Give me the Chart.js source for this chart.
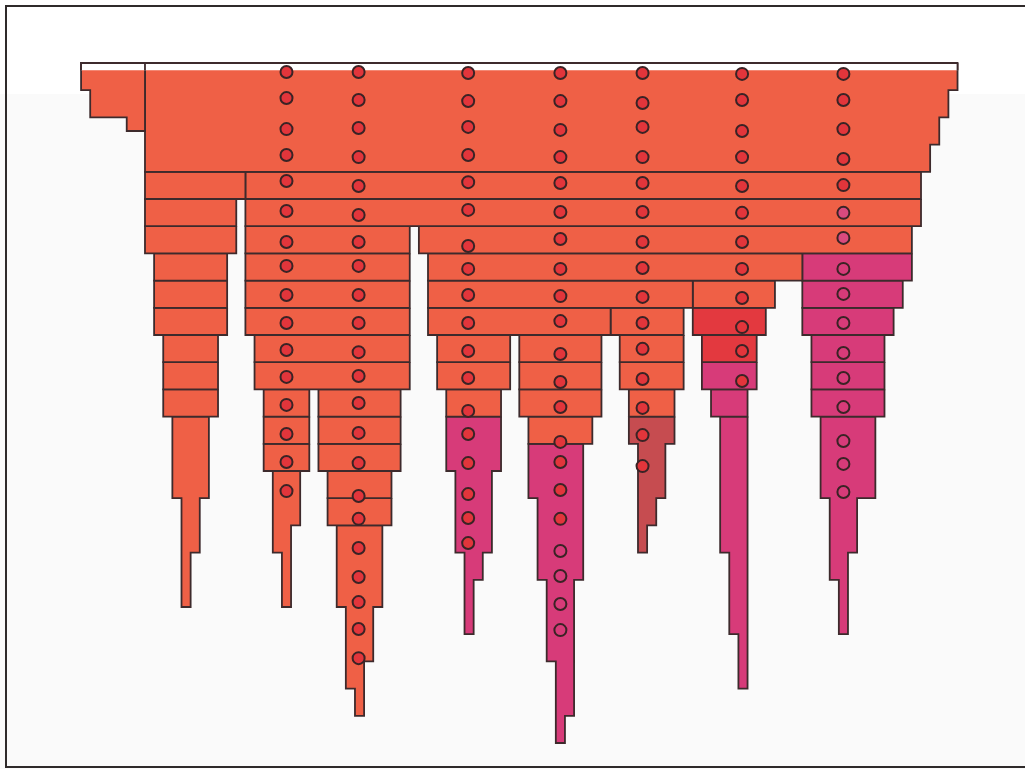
<!DOCTYPE html>
<html>
<head>
<meta charset="utf-8">
<script src="https://cdn.jsdelivr.net/npm/chart.js@4.4.1/dist/chart.umd.min.js"></script>
<style>
  html, body { margin: 0; padding: 0; }
  body {
    width: 1025px; height: 769px; overflow: hidden; position: relative;
    background: linear-gradient(#ffffff 0, #ffffff 94px, #fafafa 94px);
  }
  #frame {
    position: absolute; left: 5px; top: 5px; width: 1100px; height: 763px;
    box-sizing: border-box;
    border-top: 2px solid #2f2a2a; border-left: 2px solid #2f2a2a; border-bottom: 2px solid #2f2a2a;
  }
  #wrap { position: absolute; left: 0; top: 0; width: 1025px; height: 769px; }
</style>
</head>
<body>
<div id="frame"></div>
<div id="wrap"><canvas id="c" width="1025" height="769"></canvas></div>
<script>
// Horizontal unit: one grid step; vertical unit: one level (row).
// Strips are [levelFrom, levelTo, left, right].

// Crown and its left spur
const spurStrips  = [[0, 1, -7, 0], [1, 2, -6, 0], [2, 2.5, -2, 0]];
const crownStrips = [[0, 1, 0, 89], [1, 2, 0, 88], [2, 3, 0, 87], [3, 4, 0, 86]];
const capDepth = 0.27;

// Single-level boxes: [level, left, right]
const orangeBoxes = [
  [4, 0, 11], [4, 11, 85],
  [5, 0, 10], [5, 11, 85],
  [6, 0, 10], [6, 11, 29], [6, 30, 84],
  [7, 1, 9], [7, 11, 29], [7, 31, 72],
  [8, 1, 9], [8, 11, 29], [8, 31, 60], [8, 60, 69],
  [9, 1, 9], [9, 11, 29], [9, 31, 51], [9, 51, 59],
  [10, 2, 8], [10, 12, 29], [10, 32, 40], [10, 41, 50], [10, 52, 59],
  [11, 2, 8], [11, 12, 29], [11, 32, 40], [11, 41, 50], [11, 52, 59],
  [12, 2, 8], [12, 13, 18], [12, 19, 28], [12, 33, 39], [12, 41, 50], [12, 53, 58],
  [13, 13, 18], [13, 19, 28], [13, 42, 49],
  [14, 13, 18], [14, 19, 28],
  [15, 20, 27], [16, 20, 27]
];
const redBoxes = [[9, 60, 68], [10, 61, 67]];
const magentaBoxes = [
  [7, 72, 84], [8, 72, 83], [9, 72, 82],
  [10, 73, 81], [11, 73, 81], [12, 73, 81],
  [11, 61, 67], [12, 62, 66]
];

// Tapering shafts
const shaftA  = [[13, 16, 3, 7], [16, 18, 4, 6], [18, 20, 4, 5]];
const shaftB1 = [[15, 17, 14, 17], [17, 18, 14, 16], [18, 20, 15, 16]];
const shaftB2 = [[17, 20, 21, 26], [20, 22, 22, 25], [22, 23, 22, 24], [23, 24, 23, 24]];
const shaftC1 = [[13, 15, 33, 39], [15, 18, 34, 38], [18, 19, 35, 37], [19, 21, 35, 36]];
const shaftC2 = [[14, 16, 42, 48], [16, 19, 43, 48], [19, 22, 44, 47], [22, 24, 45, 47], [24, 25, 45, 46]];
const shaftC3 = [[13, 14, 53, 58], [14, 16, 54, 57], [16, 17, 54, 56], [17, 18, 54, 55]];
const shaftD  = [[13, 18, 63, 66], [18, 21, 64, 66], [21, 23, 65, 66]];
const shaftE  = [[13, 16, 74, 80], [16, 18, 75, 78], [18, 19, 75, 77], [19, 21, 76, 77]];

// Marker columns (horizontal position) and their depths
const markerX = [15.5, 23.4, 35.4, 45.5, 54.5, 65.4, 76.5];
const markersCol1 = [0.33, 1.29, 2.43, 3.38, 4.34, 5.44, 6.58, 7.46, 8.53, 9.56, 10.55, 11.54, 12.57, 13.64, 14.67, 15.74];
const markersCol2 = [0.33, 1.36, 2.39, 3.46, 4.52, 5.59, 6.58, 7.46, 8.53, 9.56, 10.63, 11.51, 12.5, 13.6, 14.71, 15.92, 16.76, 17.83, 18.9, 19.82, 20.81, 21.88];
const markersCol3 = [0.37, 1.4, 2.35, 3.38, 4.38, 5.4, 6.73, 7.57, 8.53, 9.56, 10.59, 11.58, 12.79, 13.64, 14.71, 15.85, 16.73, 17.65];
const markersCol4 = [0.37, 1.4, 2.46, 3.46, 4.41, 5.48, 6.47, 7.57, 8.57, 9.49, 10.7, 11.73, 12.65, 13.93, 14.67, 15.7, 16.76];
const markersCol5 = [0.37, 1.47, 2.35, 3.46, 4.41, 5.48, 6.58, 7.54, 8.6, 9.56, 10.51, 11.62, 12.68, 13.68, 14.82];
const markersCol6 = [0.4, 1.36, 2.5, 3.46, 4.52, 5.51, 6.58, 7.57, 8.64, 9.71, 10.59, 11.69];
const markersCol7 = [0.4, 1.36, 2.43, 3.53, 4.49];
const paleMarkersCol7 = [5.51, 6.43];
const openMarkersCol4 = [17.94, 18.86, 19.89, 20.85];
const openMarkersCol7 = [7.57, 8.49, 9.56, 10.66, 11.58, 12.65, 13.9, 14.74, 15.77];

const ORANGE = '#ef6046';
const RED = '#e3393f';
const MAGENTA = '#d73b79';
const DARKRED = '#c64c50';
const EDGE = '#3d2a2c';

// Outline of a stack of strips, walking down the right side and back up the left
function outline(strips) {
  const pts = [];
  strips.forEach(s => { pts.push({x: s[3], y: s[0]}, {x: s[3], y: s[1]}); });
  strips.slice().reverse().forEach(s => { pts.push({x: s[2], y: s[1]}, {x: s[2], y: s[0]}); });
  pts.push({x: strips[0][3], y: strips[0][0]});
  return pts;
}

function shape(strips, color, order) {
  return {
    data: outline(strips),
    backgroundColor: color,
    borderColor: EDGE,
    borderWidth: 1.8,
    borderJoinStyle: 'miter',
    fill: 'shape',
    pointRadius: 0,
    tension: 0,
    order: order
  };
}

function markers(x, depths, fillColor) {
  return {
    data: depths.map(d => ({x: x, y: d})),
    showLine: false,
    pointRadius: 6,
    pointBorderWidth: 2,
    pointBackgroundColor: fillColor,
    pointBorderColor: '#3a2325',
    order: 0
  };
}

const datasets = [];

// markers on top
[markersCol1, markersCol2, markersCol3, markersCol4, markersCol5, markersCol6, markersCol7]
  .forEach((col, i) => datasets.push(markers(markerX[i], col, '#e2353b')));
datasets.push(markers(markerX[6], paleMarkersCol7, '#d94a7e'));
datasets.push(markers(markerX[3], openMarkersCol4, 'rgba(0,0,0,0)'));
datasets.push(markers(markerX[6], openMarkersCol7, 'rgba(0,0,0,0)'));

// pale cap along the top edge, with its own outline
datasets.push({
  data: [{x: -7, y: capDepth}, {x: -7, y: 0}, {x: 0, y: 0}, {x: 0, y: capDepth}, {x: 0, y: 0}, {x: 89, y: 0}, {x: 89, y: capDepth}],
  borderColor: EDGE, borderWidth: 1.8, borderJoinStyle: 'miter', fill: false, pointRadius: 0, order: 1
});
datasets.push({
  data: outline([[0, capDepth, -7, 89]]),
  backgroundColor: '#ffffff', borderWidth: 0, borderColor: 'rgba(0,0,0,0)',
  fill: 'shape', pointRadius: 0, order: 2
});

// crown, spur and boxes
datasets.push(shape(spurStrips, ORANGE, 3));
datasets.push(shape(crownStrips, ORANGE, 3));
orangeBoxes.forEach(b => datasets.push(shape([[b[0], b[0] + 1, b[1], b[2]]], ORANGE, 3)));
redBoxes.forEach(b => datasets.push(shape([[b[0], b[0] + 1, b[1], b[2]]], RED, 3)));
magentaBoxes.forEach(b => datasets.push(shape([[b[0], b[0] + 1, b[1], b[2]]], MAGENTA, 3)));

// shafts
datasets.push(shape(shaftA, ORANGE, 3));
datasets.push(shape(shaftB1, ORANGE, 3));
datasets.push(shape(shaftB2, ORANGE, 3));
datasets.push(shape(shaftC1, MAGENTA, 3));
datasets.push(shape(shaftC2, MAGENTA, 3));
datasets.push(shape(shaftC3, DARKRED, 3));
datasets.push(shape(shaftD, MAGENTA, 3));
datasets.push(shape(shaftE, MAGENTA, 3));

new Chart(document.getElementById('c'), {
  type: 'line',
  data: { datasets: datasets },
  options: {
    responsive: false,
    animation: false,
    events: [],
    layout: { padding: 0, autoPadding: false },
    plugins: { legend: { display: false }, tooltip: { enabled: false } },
    scales: {
      x: { type: 'linear', display: false, min: -15.88, max: 96.39 },
      y: { type: 'linear', display: false, reverse: true, min: -2.316, max: 25.956 }
    }
  }
});
</script>
</body>
</html>
